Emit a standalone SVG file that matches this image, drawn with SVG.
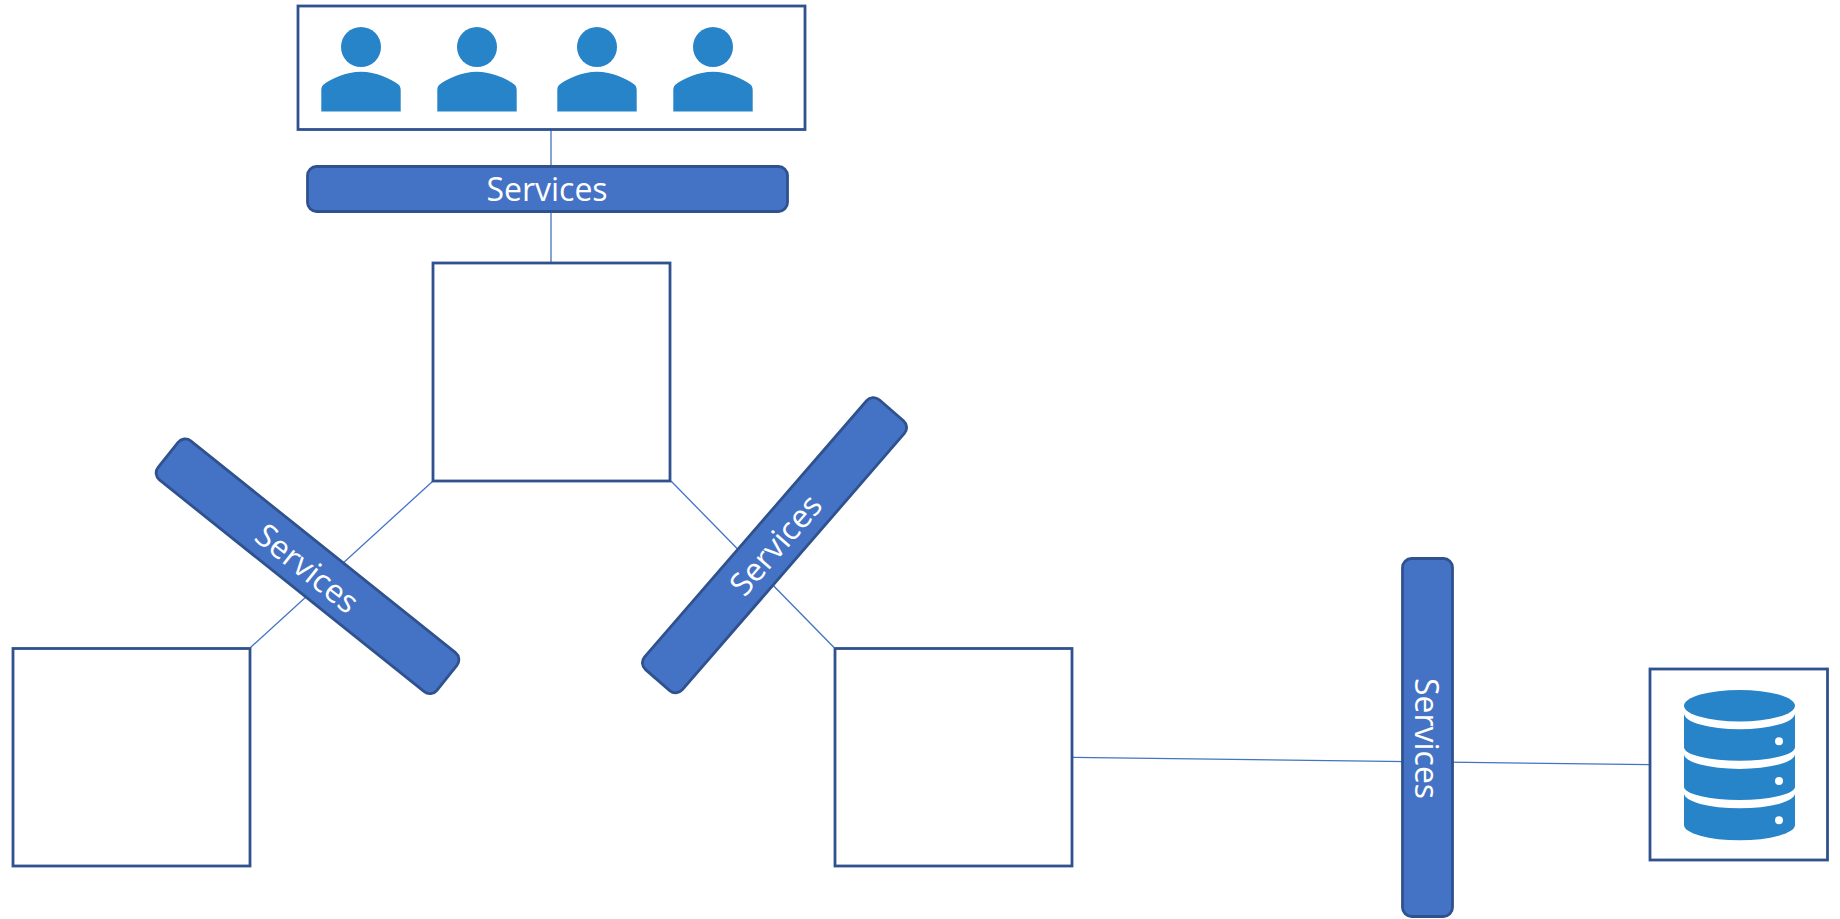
<svg xmlns="http://www.w3.org/2000/svg" width="1840" height="919" viewBox="0 0 1840 919">
<style>
.box{fill:#fff;stroke:#2F528F;stroke-width:2.8}
.bar{fill:#4472C4;stroke:#2F528F;stroke-width:2.8}
.lbl{fill:#fff;font-family:"Open Sans","Noto Sans",sans-serif;font-size:32px;text-anchor:middle}
.conn{fill:none;stroke:#4472C4;stroke-width:1.3}
.icon{fill:#2784C8}
.dot{fill:#fff}
</style>
<defs>
<g id="person">
<circle cx="0" cy="47" r="20" class="icon"/>
<path class="icon" d="M-39.7 111.500V90C-39.700 87 -38.500 85 -36.700 84C-30 79 -15 71.700 0 71.700C15 71.700 30 79 36.700 84C38.500 85 39.700 87 39.700 90V111.500Z"/>
</g>
</defs>
<rect width="1840" height="919" fill="#fff"/>
<g id="connectors">
<path class="conn" d="M551 130V166"/>
<path class="conn" d="M551 212V263"/>
<path class="conn" d="M433 481L250.500 647.500"/>
<path class="conn" d="M671 481L834 647.500"/>
<path class="conn" d="M1072.500 757.400L1650 764.600"/>
</g>
<g id="users">
<rect class="box" x="298" y="6" width="507" height="123.500"/>
<use href="#person" x="361"/>
<use href="#person" x="477"/>
<use href="#person" x="597"/>
<use href="#person" x="713"/>
</g>
<g id="bar-top">
<rect class="bar" x="307.500" y="166.500" width="480" height="45" rx="9"/>
<text class="lbl" x="547" y="201">Services</text>
</g>
<g id="box-center"><rect class="box" x="433" y="263" width="237" height="218"/></g>
<g id="box-left"><rect class="box" x="13" y="648.500" width="237" height="217.500"/></g>
<g id="box-mid"><rect class="box" x="835" y="648.500" width="237" height="217.500"/></g>
<g id="bar-left" transform="translate(307.500 566.300) rotate(38.65)">
<rect class="bar" x="-178.500" y="-25" width="357" height="50" rx="9"/>
<text class="lbl" x="1" y="13">Services</text>
</g>
<g id="bar-mid" transform="translate(774.500 545.200) rotate(-49.1)">
<rect class="bar" x="-178.500" y="-25" width="357" height="50" rx="9"/>
<text class="lbl" x="1" y="12">Services</text>
</g>
<g id="bar-right">
<rect class="bar" x="1402.500" y="558.500" width="50" height="358" rx="9"/>
<text class="lbl" transform="translate(1414.500 738.500) rotate(90)" x="0" y="0">Services</text>
</g>
<g id="database">
<rect class="box" x="1650" y="669" width="177.500" height="191"/>
<ellipse class="icon" cx="1739.500" cy="705.700" rx="55.500" ry="15.700"/>
<path class="icon" d="M1684 713.300A55.500 16 0 0 0 1795 713.300V747.300A55.500 13.400 0 0 1 1684 747.300Z"/>
<path class="icon" d="M1684 754A55.500 15 0 0 0 1795 754V786.700A55.500 13.300 0 0 1 1684 786.700Z"/>
<path class="icon" d="M1684 793.300A55.500 15 0 0 0 1795 793.300V825A55.500 15.300 0 0 1 1684 825Z"/>
<circle class="dot" cx="1779" cy="741.300" r="4"/>
<circle class="dot" cx="1779" cy="781" r="4"/>
<circle class="dot" cx="1779" cy="820.300" r="4"/>
</g>
</svg>
